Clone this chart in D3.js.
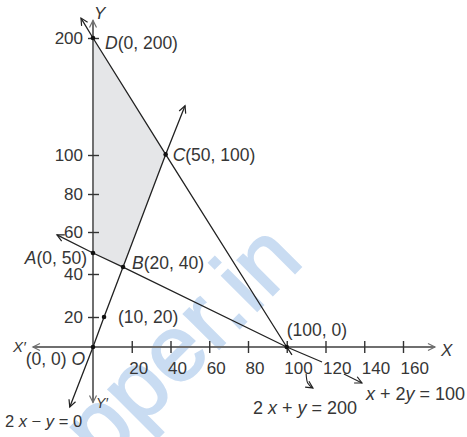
<!DOCTYPE html>
<html>
<head>
<meta charset="utf-8">
<script src="https://cdn.jsdelivr.net/npm/d3@7"></script>
<style>
  body { margin: 0; background: #fff; }
  text { font-family: "Liberation Sans", Arial, sans-serif; fill: #363636; }
</style>
</head>
<body>
<div class="chart"></div>
<script>
// tick labels
const xTicks = [20, 40, 60, 80, 100, 120, 140, 160];
const yTicks = [20, 40, 60, 80, 100, 200];
// the drawing is not to scale on y, so the scale is piecewise through these values
const yBreaks = [0, 20, 40, 60, 80, 100, 200];

// shaded region corners as drawn: A, B, C, D
const regionX = [0, 15.5, 37.5, 0];
const regionY = [50, 43.3, 100.5, 200];

// constraint lines, tip to tip, as drawn
const lineNames = ["2 x − y = 0", "x + 2y = 100", "2 x + y = 200"];
const lineX = [[-12, 0, 5.7, 15.5, 37.5, 47.5], [-18.6, 0, 15.5, 100, 118.2], [-6.2, 0, 37.5, 100, 102.7]];
const lineY = [[-40, 0, 20, 43.3, 100.5, 142], [58.6, 50, 43.3, 0, -10], [217, 200, 100.5, 0, -5.3]];
const arrowStart = [true, true, true];
const arrowEnd = [true, false, false];

// marked points and their labels
const pointX = [0, 5.7, 15.5, 37.5, 0, 0, 100];
const pointY = [0, 20, 43.3, 100.5, 200, 50, 0];
const pointPre = ["", "", "B", "C", "D", "A", ""];
const pointText = ["(0, 0) ", "(10, 20)", "(20, 40)", "(50, 100)", "(0, 200)", "(0, 50)", "(100, 0)"];
const pointPost = ["O", "", "", "", "", "", ""];

// small pointer arrows from the axis to the equation labels
const leaderX = [[110, 110.8, 113.5], [129.5, 138.8]];
const leaderY = [[-18, -24, -27.3], [-18, -24]];

const W = 467, H = 437;

const svg = d3.select(".chart").append("svg")
  .attr("width", W).attr("height", H);

const x = d3.scaleLinear().domain([0, 160]).range([93, 403]);
const y = d3.scaleLinear().domain(yBreaks).range([347, 317, 274, 232, 194, 155, 38]);

const defs = svg.append("defs");
[["arrDark", "#222"], ["arrGray", "#6f6f6f"]].forEach(([id, c]) => {
  defs.append("marker")
    .attr("id", id)
    .attr("viewBox", "-9 -5 11 10")
    .attr("refX", 0).attr("refY", 0)
    .attr("markerUnits", "userSpaceOnUse")
    .attr("markerWidth", 11).attr("markerHeight", 10)
    .attr("orient", "auto-start-reverse")
    .append("path")
    .attr("d", "M-7,-3.5 L0,0 L-7,3.5")
    .attr("fill", "none")
    .attr("stroke", c)
    .attr("stroke-width", 1.2);
});

// watermark
svg.append("text")
  .attr("transform", "translate(306,262) rotate(-45)")
  .attr("text-anchor", "end")
  .attr("font-size", 94)
  .attr("letter-spacing", 1)
  .style("fill", "#c9dcf2")
  .style("stroke", "#c9dcf2")
  .style("stroke-width", 2)
  .text("Topper.in");

// shaded region
svg.append("path")
  .datum(regionX.map((d, i) => [d, regionY[i]]))
  .attr("d", d3.line().x(d => x(d[0])).y(d => y(d[1])))
  .attr("fill", "#e5e6e8");

// axes lines with arrows
svg.append("line")
  .attr("x1", x(-31)).attr("x2", x(176.5))
  .attr("y1", y(0)).attr("y2", y(0))
  .attr("stroke", "#6f6f6f").attr("stroke-width", 2)
  .attr("marker-start", "url(#arrGray)")
  .attr("marker-end", "url(#arrGray)");

svg.append("line")
  .attr("x1", x(0)).attr("x2", x(0))
  .attr("y1", y(-37)).attr("y2", y(215))
  .attr("stroke", "#6f6f6f").attr("stroke-width", 2)
  .attr("marker-start", "url(#arrGray)")
  .attr("marker-end", "url(#arrGray)");

// x ticks
const xAxis = svg.append("g")
  .attr("transform", `translate(0,${y(0)})`)
  .call(d3.axisBottom(x).tickValues(xTicks).tickSize(6).tickPadding(9))
  .attr("font-size", 17)
  .attr("font-family", null);
xAxis.select(".domain").remove();
xAxis.selectAll(".tick line").attr("y1", -6).attr("y2", 6)
  .attr("stroke", "#333").attr("stroke-width", 1.4);
xAxis.selectAll(".tick text").attr("text-anchor", "start").attr("x", -3);

// y ticks
const yAxis = svg.append("g")
  .attr("transform", `translate(${x(0)},0)`)
  .call(d3.axisLeft(y).tickValues(yTicks).tickSize(5).tickPadding(5))
  .attr("font-size", 17)
  .attr("font-family", null);
yAxis.select(".domain").remove();
yAxis.selectAll(".tick line").attr("x1", -5).attr("x2", 6)
  .attr("stroke", "#333").attr("stroke-width", 1.4);

// constraint lines
const line = d3.line().x(d => x(d[0])).y(d => y(d[1]));
lineNames.forEach((name, i) => {
  svg.append("path")
    .datum(lineX[i].map((d, j) => [d, lineY[i][j]]))
    .attr("d", line)
    .attr("fill", "none")
    .attr("stroke", "#222")
    .attr("stroke-width", 1.3)
    .attr("marker-start", arrowStart[i] ? "url(#arrDark)" : null)
    .attr("marker-end", arrowEnd[i] ? "url(#arrDark)" : null);
});

// points
svg.selectAll(".pt")
  .data(pointX)
  .enter()
  .append("circle")
  .attr("class", "pt")
  .attr("cx", d => x(d))
  .attr("cy", (d, i) => y(pointY[i]))
  .attr("r", 2.3)
  .attr("fill", "#111");

// point labels
const labDx = [-8, 14, 9, 7, 12, -6, 0];
const labDy = [18, 6, 2, 7, 11, 11, -11];
const labAnchor = ["end", "start", "start", "start", "start", "end", "start"];
pointX.forEach((d, i) => {
  const t = svg.append("text")
    .attr("x", x(d) + labDx[i])
    .attr("y", y(pointY[i]) + labDy[i])
    .attr("text-anchor", labAnchor[i])
    .attr("font-size", 17.5);
  if (pointPre[i]) t.append("tspan").attr("font-style", "italic").text(pointPre[i]);
  t.append("tspan").text(pointText[i]);
  if (pointPost[i]) t.append("tspan").attr("font-style", "italic").text(pointPost[i]);
});

// leader arrows
leaderX.forEach((lx, i) => {
  svg.append("path")
    .datum(lx.map((d, j) => [d, leaderY[i][j]]))
    .attr("d", d3.line().x(d => x(d[0])).y(d => y(d[1])).curve(d3.curveNatural))
    .attr("fill", "none")
    .attr("stroke", "#222")
    .attr("stroke-width", 1.1)
    .attr("marker-end", "url(#arrDark)");
});

// equation labels
function eqLabel(px, py, size, parts) {
  const t = svg.append("text").attr("x", px).attr("y", py).attr("font-size", size);
  parts.forEach(p => {
    t.append("tspan").attr("font-style", p[1] ? "italic" : null).text(p[0]);
  });
}
eqLabel(5, 427, 16.5, [["2 ", 0], ["x", 1], [" − ", 0], ["y", 1], [" = 0", 0]]);
eqLabel(253, 414, 18, [["2 ", 0], ["x", 1], [" + ", 0], ["y", 1], [" = 200", 0]]);
eqLabel(366, 400, 18, [["x", 1], [" + 2", 0], ["y", 1], [" = 100", 0]]);

// axis names
svg.append("text").attr("x", 94).attr("y", 19).attr("font-size", 17)
  .attr("font-style", "italic").text("Y");
svg.append("text").attr("x", 96).attr("y", 408).attr("font-size", 14)
  .attr("font-style", "italic").text("Y′");
svg.append("text").attr("x", 441).attr("y", 356).attr("font-size", 17)
  .attr("font-style", "italic").text("X");
svg.append("text").attr("x", 13).attr("y", 352).attr("font-size", 15)
  .attr("font-style", "italic").text("X′");
</script>
</body>
</html>
